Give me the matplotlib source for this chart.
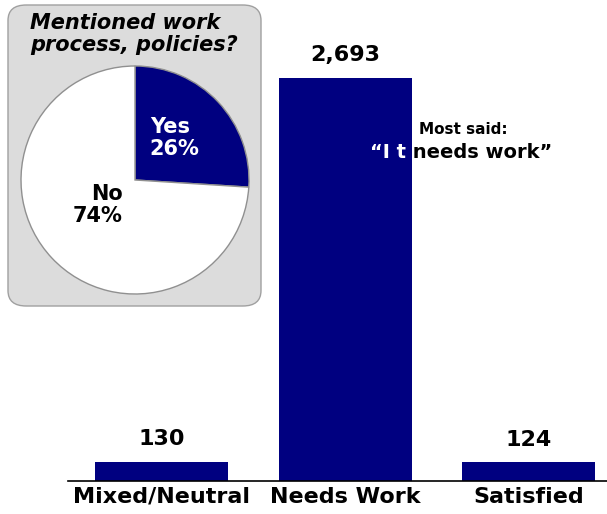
import matplotlib.pyplot as plt
from matplotlib.patches import FancyBboxPatch
import numpy as np

categories = ["Mixed/Neutral", "Needs Work", "Satisfied"]
counts = [130, 2693, 124]
value_labels = ["130", "2,693", "124"]

pie_labels = ["Yes\n26%", "No\n74%"]
pie_values = [26, 74]

NAVY = "#000080"
W, H = 607, 514


def px(x0, y0, x1, y1):
    # pixel box (top-left origin) -> figure fraction rect
    return [x0 / W, 1 - y1 / H, (x1 - x0) / W, (y1 - y0) / H]


fig = plt.figure(figsize=(W / 100, H / 100), dpi=100)
plt.rcParams['font.family'] = ['DejaVu Sans']

# inset box behind everything
box = FancyBboxPatch((8 / W, 1 - 306 / H), 253 / W, 301 / H,
                     boxstyle="round,pad=0,rounding_size=0.03",
                     transform=fig.transFigure, facecolor="#dcdcdc",
                     edgecolor="#a0a0a0", linewidth=1, zorder=-5)
fig.patches.append(box)

# main bar chart
ax = fig.add_axes(px(68, 0, 607, 481))
ax.patch.set_alpha(0)
x = np.arange(len(categories))
bars = ax.bar(x, counts, width=0.725, color=NAVY)
ax.set_xlim(-0.51, 2.428)
ax.set_ylim(0, 3214)
for s in ["top", "right", "left"]:
    ax.spines[s].set_visible(False)
ax.spines["bottom"].set_linewidth(1.2)
ax.set_yticks([])
ax.set_xticks(x)
ax.set_xticklabels(categories, fontsize=16, fontweight="bold")
ax.tick_params(axis="x", length=0, pad=4)
for xi, v, lab in zip(x, counts, value_labels):
    ax.annotate(lab, (xi, v), xytext=(0, 9), textcoords="offset points",
                ha="center", va="bottom", fontsize=16, fontweight="bold")

# "Most said" annotation, first word sits on the bar in white
fig.text(463 / W, 1 - 129 / H, "Most said:", ha="center", va="center",
         fontsize=11, fontweight="bold")
t1 = fig.text(370 / W, 1 - 152 / H, "\u201cI t", ha="left", va="center",
              fontsize=14, fontweight="bold", color="white")
ax.annotate(" needs work\u201d", xy=(1, 0), xycoords=t1, ha="left", va="bottom",
            fontsize=14, fontweight="bold", color="black", annotation_clip=False)

# inset title and pie
fig.text(30 / W, 1 - 34 / H, "Mentioned work\nprocess, policies?", ha="left",
         va="center", fontsize=15, fontweight="bold", style="italic",
         linespacing=1.1)

pax = fig.add_axes(px(21, 66, 249, 294))
pax.pie(pie_values, colors=[NAVY, "white"], startangle=90, counterclock=False,
        radius=1, wedgeprops=dict(edgecolor="#909090", linewidth=1))
pax.set_xlim(-1.0, 1.0)
pax.set_ylim(-1.0, 1.0)
pax.set_aspect("equal")
pax.axis("off")
pax.text(0.13, 0.37, pie_labels[0], ha="left", va="center", color="white",
         fontsize=15, fontweight="bold", linespacing=1.15, multialignment="left")
pax.text(-0.11, -0.22, pie_labels[1], ha="right", va="center", color="black",
         fontsize=15, fontweight="bold", linespacing=1.15, multialignment="right")

fig.savefig("out.png", dpi=100)
